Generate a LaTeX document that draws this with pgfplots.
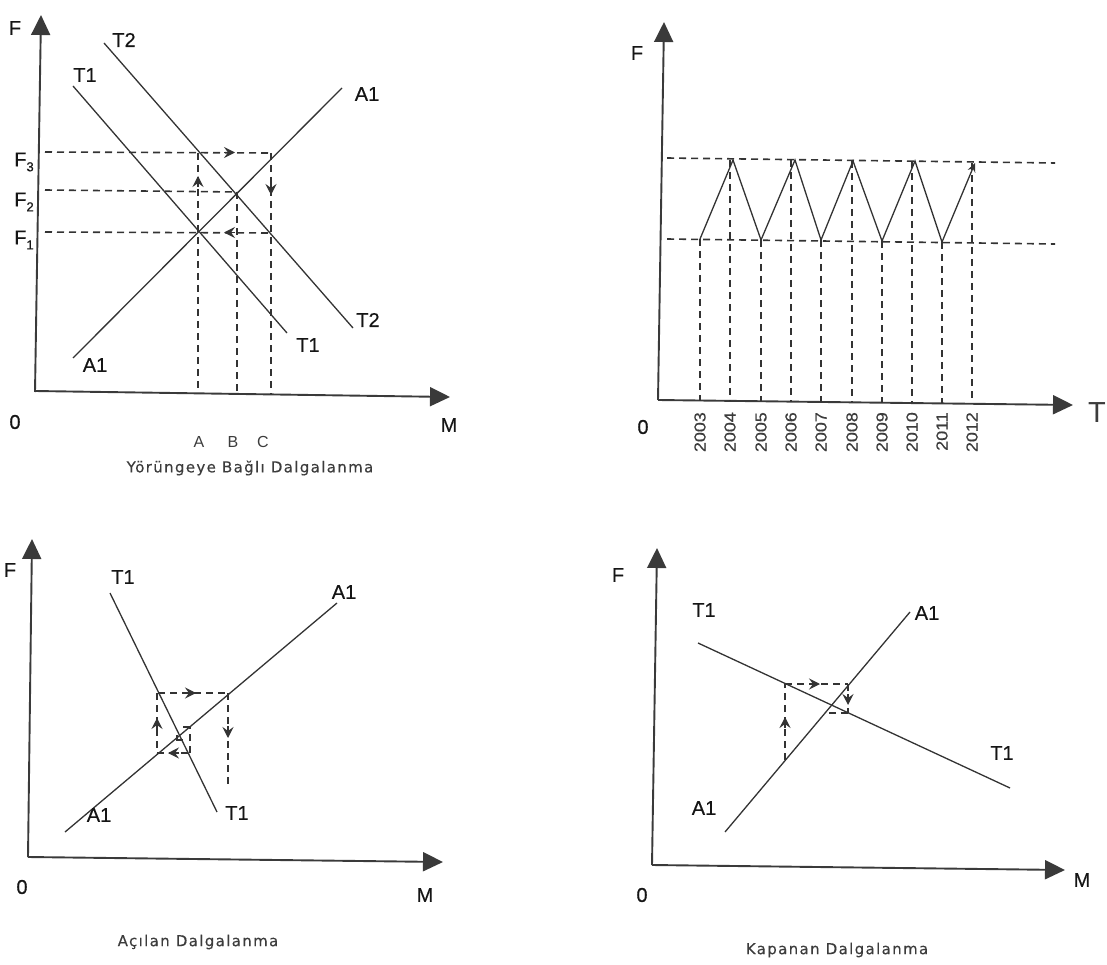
\documentclass[border=0pt]{standalone}
\usepackage{pgfplots}
\pgfplotsset{compat=1.18}
\usepackage{fontspec}
\setmainfont{Liberation Sans}
\newfontfamily\labfont[FakeBold=0.4]{Liberation Sans}
\newfontfamily\capfont[LetterSpace=9,FakeBold=0.3]{DejaVu Sans}
\usetikzlibrary{arrows.meta}
\definecolor{ln}{HTML}{333333}
\definecolor{ax}{HTML}{3A3A3A}
\definecolor{tx}{HTML}{151515}
\definecolor{cp}{HTML}{3C3C3C}
\tikzset{
  myaxis/.style={ax, line width=1.9pt, -{Triangle[length=20pt,width=19pt]}},
  mycurve/.style={ln, line width=1.3pt},
  mydash/.style={ln, line width=1.6pt, dash pattern=on 7pt off 5pt},
  mymid/.style={ln, line width=1.4pt, -{Stealth[length=11pt,width=11pt,inset=4pt]}},
  mylab/.style={text=tx, font=\labfont\fontsize{20}{22}\selectfont, inner sep=0pt},
  mycap/.style={text=cp, font=\capfont\fontsize{15}{16}\selectfont, inner sep=0pt},
  myabc/.style={text=cp, font=\fontsize{16}{17}\selectfont, inner sep=0pt},
  myyr/.style={text=cp, font=\labfont\fontsize{16}{17}\selectfont, inner sep=0pt, rotate=90, anchor=east},
}
\begin{document}
\begin{tikzpicture}
\begin{axis}[
  width=1107pt, height=965pt, scale only axis,
  xmin=0, xmax=1107, ymin=0, ymax=965, y dir=reverse,
  hide axis, clip=false,
]
\addplot[draw=none] coordinates {(0,0)(1107,965)};

% ================= Panel 1 =================
\addplot[myaxis] coordinates {(35,392)(41,15)};
\addplot[myaxis] coordinates {(35,391)(450,397)};
\addplot[mycurve] coordinates {(104,43)(353,328)};
\addplot[mycurve] coordinates {(73,86)(287,333)};
\addplot[mycurve] coordinates {(73,358)(342,88)};
\addplot[mydash] coordinates {(45,152)(272,153)};
\addplot[mydash] coordinates {(45,190)(237,192)};
\addplot[mydash] coordinates {(45,232)(271,233)};
\addplot[mydash] coordinates {(198,153)(198,392)};
\addplot[mydash] coordinates {(237,192)(237,393)};
\addplot[mydash] coordinates {(271,153)(271,394)};
\addplot[mymid] coordinates {(224,152.5)(235,152.5)};
\addplot[mymid] coordinates {(198,187)(198,176)};
\addplot[mymid] coordinates {(271,183)(271,195)};
\addplot[mymid] coordinates {(235,232.5)(224,232.5)};
\node[mylab] at (axis cs:15,28) {F};
\node[mylab] at (axis cs:24,162) {F\raisebox{-0.25em}{\fontsize{13}{13}\selectfont 3}};
\node[mylab] at (axis cs:24,202) {F\raisebox{-0.25em}{\fontsize{13}{13}\selectfont 2}};
\node[mylab] at (axis cs:24,240) {F\raisebox{-0.25em}{\fontsize{13}{13}\selectfont 1}};
\node[mylab] at (axis cs:15,422) {0};
\node[mylab] at (axis cs:449,425) {M};
\node[mylab] at (axis cs:124,40) {T2};
\node[mylab] at (axis cs:85,75) {T1};
\node[mylab] at (axis cs:367,94) {A1};
\node[mylab] at (axis cs:368,320) {T2};
\node[mylab] at (axis cs:308,345) {T1};
\node[mylab] at (axis cs:95,365) {A1};
\node[myabc] at (axis cs:199,442) {A};
\node[myabc] at (axis cs:233,442) {B};
\node[myabc] at (axis cs:263,442) {C};
\node[mycap] at (axis cs:250,468) {Yörüngeye Bağlı Dalgalanma};

% ================= Panel 2 =================
\addplot[myaxis] coordinates {(658,400)(664,22)};
\addplot[myaxis] coordinates {(658,400)(1073,405)};
\addplot[mydash] coordinates {(667,158)(1055,163)};
\addplot[mydash] coordinates {(667,239)(1055,244)};
\addplot[mydash] coordinates {(700,239)(700,401)};
\addplot[mydash] coordinates {(730,160)(730,401)};
\addplot[mydash] coordinates {(761,240)(761,401)};
\addplot[mydash] coordinates {(791,160)(791,402)};
\addplot[mydash] coordinates {(821,240)(821,402)};
\addplot[mydash] coordinates {(852,161)(852,402)};
\addplot[mydash] coordinates {(882,241)(882,403)};
\addplot[mydash] coordinates {(912,161)(912,403)};
\addplot[mydash] coordinates {(942,242)(942,403)};
\addplot[mydash] coordinates {(972,163)(972,403)};
\addplot[mycurve, -{Stealth[length=9pt,width=8pt,inset=3pt]}] coordinates {(700,239)(733,160)(761,240)(795,160)(821,240)(853,161)(882,241)(915,161)(942,242)(975,163)};
\node[myyr] at (axis cs:700,412) {\scalebox{1.12}[1]{2003}};
\node[myyr] at (axis cs:730,412) {\scalebox{1.12}[1]{2004}};
\node[myyr] at (axis cs:761,412) {\scalebox{1.12}[1]{2005}};
\node[myyr] at (axis cs:791,412) {\scalebox{1.12}[1]{2006}};
\node[myyr] at (axis cs:821,412) {\scalebox{1.12}[1]{2007}};
\node[myyr] at (axis cs:852,412) {\scalebox{1.12}[1]{2008}};
\node[myyr] at (axis cs:882,412) {\scalebox{1.12}[1]{2009}};
\node[myyr] at (axis cs:912,412) {\scalebox{1.12}[1]{2010}};
\node[myyr] at (axis cs:942,412) {\scalebox{1.12}[1]{2011}};
\node[myyr] at (axis cs:972,412) {\scalebox{1.12}[1]{2012}};
\node[mylab] at (axis cs:637,53) {F};
\node[mylab] at (axis cs:643,427) {0};
\node[text=cp, font=\fontsize{29}{30}\selectfont, inner sep=0pt] at (axis cs:1097,413) {T};

% ================= Panel 3 =================
\addplot[myaxis] coordinates {(28,857)(32,539)};
\addplot[myaxis] coordinates {(28,857)(443,862)};
\addplot[mycurve] coordinates {(110,593)(217,812)};
\addplot[mycurve] coordinates {(65,832)(337,603)};
\addplot[mydash] coordinates {(158,693)(228,693)};
\addplot[mydash] coordinates {(228,693)(228,787)};
\addplot[mydash] coordinates {(157,693)(157,753)};
\addplot[mydash] coordinates {(157,753)(190,753)};
\addplot[mydash] coordinates {(190,753)(190,727)};
\addplot[mydash] coordinates {(190,727)(182,727)};
\addplot[mycurve, line width=1.1pt] coordinates {(177,735)(177,740)(183,740)};
\addplot[mymid] coordinates {(185,693)(196,693)};
\addplot[mymid] coordinates {(228,726)(228,738)};
\addplot[mymid] coordinates {(157,729)(157,718)};
\addplot[mymid] coordinates {(179,753)(168,753)};
\node[mylab] at (axis cs:10,570) {F};
\node[mylab] at (axis cs:22,887) {0};
\node[mylab] at (axis cs:425,895) {M};
\node[mylab] at (axis cs:123,577) {T1};
\node[mylab] at (axis cs:237,813) {T1};
\node[mylab] at (axis cs:344,592) {A1};
\node[mylab] at (axis cs:99,815) {A1};
\node[mycap] at (axis cs:198,942) {Açılan Dalgalanma};

% ================= Panel 4 =================
\addplot[myaxis] coordinates {(652,865)(657,548)};
\addplot[myaxis] coordinates {(652,865)(1065,870)};
\addplot[mycurve] coordinates {(698,643)(1010,788)};
\addplot[mycurve] coordinates {(725,832)(910,612)};
\addplot[mydash] coordinates {(785,760)(785,684)};
\addplot[mydash] coordinates {(785,684)(848,684)};
\addplot[mydash] coordinates {(848,684)(848,713)};
\addplot[mydash] coordinates {(848,713)(826,713)};
\addplot[mymid] coordinates {(785,728)(785,717)};
\addplot[mymid] coordinates {(809,684)(820,684)};
\addplot[mymid] coordinates {(848,694)(848,705)};
\node[mylab] at (axis cs:618,575) {F};
\node[mylab] at (axis cs:642,895) {0};
\node[mylab] at (axis cs:1082,880) {M};
\node[mylab] at (axis cs:704,610) {T1};
\node[mylab] at (axis cs:927,613) {A1};
\node[mylab] at (axis cs:1002,753) {T1};
\node[mylab] at (axis cs:704,808) {A1};
\node[mycap] at (axis cs:837,950) {Kapanan Dalgalanma};
\end{axis}
\end{tikzpicture}
\end{document}
